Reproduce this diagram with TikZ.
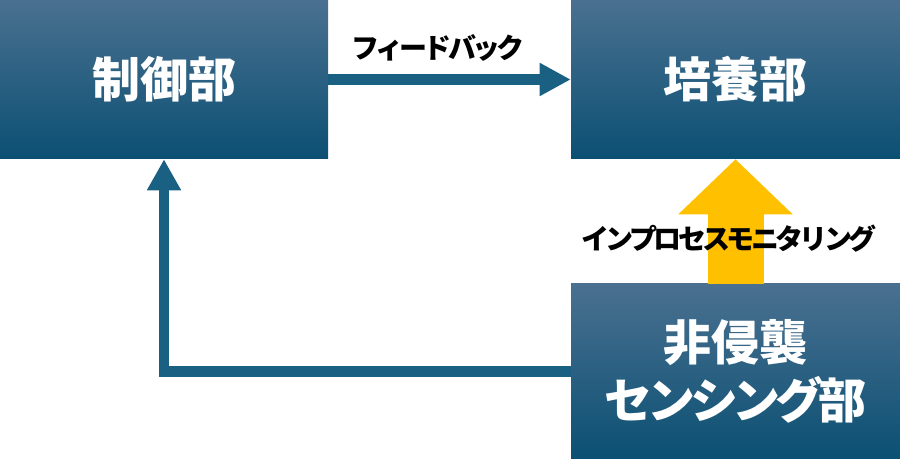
\documentclass[tikz,border=0pt]{standalone}
\usepackage{fontspec}
\newfontfamily\jpfont{Noto Sans CJK JP}
\newfontfamily\jpnarrow{Noto Sans CJK JP}[LetterSpace=-13]
\newfontfamily\jptight{Noto Sans CJK JP}[LetterSpace=-11]
\usepackage{tikz}
\usetikzlibrary{shapes,arrows.meta}

\definecolor{boxtop}{RGB}{74,112,144}
\definecolor{boxmid}{RGB}{20,96,132}
\definecolor{boxbot}{RGB}{11,80,115}
\definecolor{flowblue}{RGB}{26,96,130}
\definecolor{monitor}{RGB}{255,192,0}

\begin{document}
\begin{tikzpicture}[x=0.75pt,y=0.75pt,yscale=-1,xscale=1,
    unit/.style={draw=none,top color=boxtop,middle color=boxmid,bottom color=boxbot,
        text=white,font=\jpfont\bfseries\fontsize{36}{43}\selectfont,align=center,inner sep=0pt},
    flow/.style={draw=flowblue,line width=8pt},
    lbl/.style={font=\jpnarrow\bfseries\fontsize{21}{24}\selectfont,inner sep=0pt}]
    \useasboundingbox (0,0) rectangle (900,459);
    %Shape: Rectangle [id:ctrl]
    \node[unit,minimum width=246pt,minimum height=119.25pt] (ctrl) at (164,79.5) {制御部};
    %Shape: Rectangle [id:cult]
    \node[unit,minimum width=246.75pt,minimum height=119.25pt] (cult) at (735.5,79.5) {培養部};
    %Shape: Rectangle [id:sens]
    \node[unit,minimum width=246.75pt,minimum height=131.25pt] (sens) at (735.5,371.5) {非侵襲\\{\jptight\bfseries センシング部}};
    %Straight Lines [id:fb]
    \draw[flow,-{Triangle[width=23.25pt,length=23.25pt]}] (ctrl.east) -- (cult.west);
    %Straight Lines [id:back]
    \draw[flow,-{Triangle[width=24pt,length=23.25pt]}] (sens.west) -| (ctrl.south);
    %Block Arrow [id:mon]
    \draw[draw=monitor,line width=42pt,-{Triangle[width=83.25pt,length=41.25pt]}] (sens.north) -- (cult.south);
    % Text Node
    \node[lbl] (fbtext) at (438,48) {フィードバック};
    % Text Node
    \node[lbl] (montext) at (729,239) {インプロセスモニタリング};
\end{tikzpicture}
\end{document}
